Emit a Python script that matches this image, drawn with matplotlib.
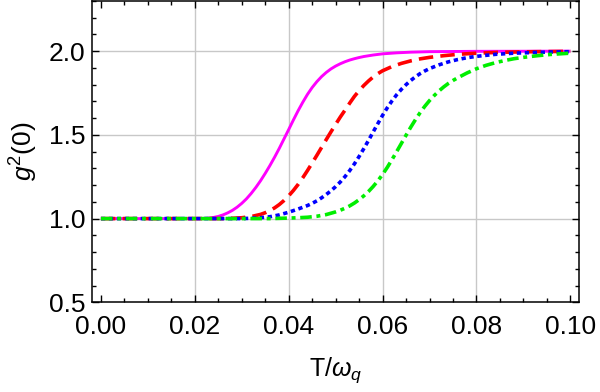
import matplotlib
matplotlib.use("Agg")
import matplotlib.pyplot as plt
from matplotlib.ticker import MultipleLocator

plt.rcParams['font.family'] = ['Liberation Sans', 'DejaVu Sans']
plt.rcParams['mathtext.fontset'] = 'custom'
plt.rcParams['mathtext.rm'] = 'Liberation Sans'
plt.rcParams['mathtext.it'] = 'Liberation Sans:italic'

# ---- data ----
t_magenta = [0.000, 0.010, 0.020, 0.022, 0.023, 0.024, 0.025, 0.026, 0.027, 0.028, 0.029, 0.030,
             0.031, 0.032, 0.033, 0.034, 0.035, 0.036, 0.037, 0.038, 0.039, 0.040, 0.041, 0.042,
             0.043, 0.044, 0.045, 0.046, 0.047, 0.048, 0.049, 0.050, 0.051, 0.052, 0.053, 0.054,
             0.055, 0.056, 0.058, 0.060, 0.063, 0.066, 0.070, 0.080, 0.100]
g_magenta = [1.000, 1.000, 1.000, 1.001, 1.003, 1.007, 1.013, 1.022, 1.034, 1.049, 1.068, 1.091,
             1.118, 1.150, 1.186, 1.226, 1.270, 1.317, 1.367, 1.420, 1.476, 1.532, 1.589, 1.644,
             1.695, 1.742, 1.783, 1.818, 1.848, 1.873, 1.894, 1.911, 1.925, 1.937, 1.947, 1.955,
             1.962, 1.968, 1.977, 1.984, 1.990, 1.994, 1.997, 1.999, 2.000]

t_red = [0.000, 0.010, 0.020, 0.026, 0.028, 0.030, 0.032, 0.034, 0.035, 0.036, 0.037, 0.038, 0.039,
         0.040, 0.041, 0.042, 0.043, 0.044, 0.045, 0.046, 0.047, 0.048, 0.049, 0.050, 0.051, 0.052,
         0.053, 0.054, 0.055, 0.056, 0.057, 0.058, 0.059, 0.060, 0.062, 0.064, 0.066, 0.068, 0.070,
         0.073, 0.076, 0.080, 0.085, 0.090, 0.100]
g_red = [1.000, 1.000, 1.000, 1.000, 1.002, 1.005, 1.012, 1.025, 1.035, 1.048, 1.064, 1.084, 1.108,
         1.136, 1.168, 1.204, 1.244, 1.287, 1.332, 1.378, 1.425, 1.472, 1.518, 1.563, 1.607, 1.648,
         1.690, 1.730, 1.764, 1.795, 1.822, 1.846, 1.866, 1.883, 1.908, 1.927, 1.942, 1.954, 1.963,
         1.973, 1.981, 1.988, 1.993, 1.996, 1.999]

t_blue = [0.000, 0.010, 0.020, 0.030, 0.032, 0.034, 0.036, 0.038, 0.040, 0.042, 0.044, 0.045, 0.046,
          0.047, 0.048, 0.049, 0.050, 0.051, 0.052, 0.053, 0.054, 0.055, 0.056, 0.057, 0.058, 0.059,
          0.060, 0.061, 0.062, 0.063, 0.064, 0.065, 0.066, 0.067, 0.068, 0.069, 0.070, 0.072, 0.074,
          0.076, 0.078, 0.080, 0.084, 0.088, 0.092, 0.096, 0.100]
g_blue = [1.000, 1.000, 1.000, 1.000, 1.002, 1.005, 1.011, 1.022, 1.038, 1.057, 1.078, 1.091, 1.106,
          1.124, 1.144, 1.166, 1.191, 1.219, 1.251, 1.287, 1.327, 1.371, 1.418, 1.467, 1.518, 1.568,
          1.617, 1.662, 1.703, 1.740, 1.772, 1.800, 1.825, 1.847, 1.866, 1.882, 1.896, 1.918, 1.936,
          1.950, 1.961, 1.969, 1.981, 1.988, 1.992, 1.995, 1.997]

t_green = [0.000, 0.010, 0.020, 0.030, 0.036, 0.040, 0.042, 0.044, 0.046, 0.048, 0.050, 0.051, 0.052,
           0.053, 0.054, 0.055, 0.056, 0.057, 0.058, 0.059, 0.060, 0.061, 0.062, 0.063, 0.064, 0.065,
           0.066, 0.067, 0.068, 0.069, 0.070, 0.071, 0.072, 0.073, 0.074, 0.075, 0.076, 0.078, 0.080,
           0.082, 0.084, 0.086, 0.088, 0.090, 0.093, 0.096, 0.100]
g_green = [1.000, 1.000, 1.000, 1.000, 1.000, 1.003, 1.005, 1.008, 1.014, 1.024, 1.040, 1.050, 1.062,
           1.076, 1.093, 1.113, 1.136, 1.162, 1.192, 1.226, 1.264, 1.306, 1.352, 1.400, 1.449, 1.498,
           1.546, 1.591, 1.633, 1.671, 1.705, 1.735, 1.762, 1.786, 1.807, 1.825, 1.841, 1.870, 1.895,
           1.915, 1.931, 1.944, 1.955, 1.963, 1.973, 1.981, 1.988]

x_ticks = [0.00, 0.02, 0.04, 0.06, 0.08, 0.10]
x_tick_labels = ["0.00", "0.02", "0.04", "0.06", "0.08", "0.10"]
y_ticks = [0.5, 1.0, 1.5, 2.0]
y_tick_labels = ["0.5", "1.0", "1.5", "2.0"]

# ---- figure ----
fig = plt.figure(figsize=(6.0, 3.92), dpi=100)
ax = fig.add_axes([92/600, 1 - 302.3/392, (579.3 - 92)/600, (302.3 - 0.6)/392])

ax.set_xlim(-0.0019, 0.1019)
ax.set_ylim(0.5, 2.302)

for xv in [0.02, 0.04, 0.06, 0.08]:
    ax.axvline(xv, color='#c8c8c8', lw=1.0, zorder=0)
for yv in [1.0, 1.5, 2.0]:
    ax.axhline(yv, color='#c8c8c8', lw=1.0, zorder=0)

lw = 2.6
ax.plot(t_magenta, g_magenta, color='#ff00ff', lw=2.1, solid_capstyle='butt')
ax.plot(t_red, g_red, color='#ff0000', lw=lw, linestyle=(0, (4.0, 2.0)), dash_capstyle='butt')
ax.plot(t_blue, g_blue, color='#0000ff', lw=lw, linestyle=(0, (1.2, 1.0)), dash_capstyle='butt')
ax.plot(t_green, g_green, color='#00ee00', lw=lw, linestyle=(0, (3.2, 1.3, 1.1, 1.3)), dash_capstyle='butt')

ax.set_xticks(x_ticks)
ax.set_xticklabels(x_tick_labels)
ax.set_yticks(y_ticks)
ax.set_yticklabels(y_tick_labels)
ax.xaxis.set_minor_locator(MultipleLocator(0.005))
ax.yaxis.set_minor_locator(MultipleLocator(0.1))

ax.tick_params(which='both', direction='in', top=True, right=True, color='black', width=1.0)
ax.tick_params(which='major', length=5, labelsize=19)
ax.tick_params(which='minor', length=3)
ax.tick_params(axis='x', which='major', pad=9)
ax.tick_params(axis='y', which='major', pad=5)

for s in ax.spines.values():
    s.set_linewidth(1.1)
    s.set_color('black')

ax.set_xlabel(r'T/$\omega_q$', fontsize=18, labelpad=12)
ax.set_ylabel(r'$g^2$(0)', fontsize=19, labelpad=6)

fig.savefig('out.png', dpi=100)
